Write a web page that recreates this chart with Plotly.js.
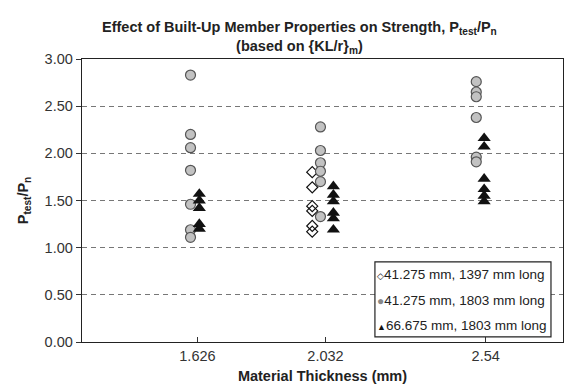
<!DOCTYPE html>
<html>
<head>
<meta charset="utf-8">
<script src="https://cdn.plot.ly/plotly-3.0.1.min.js"></script>
<style>html,body{margin:0;padding:0;background:#fff;}#chart{width:565px;height:390px;}</style>
</head>
<body>
<div id="chart"></div>
<script>
// Material thickness categories (mm)
var thicknessTicks = [1.626, 2.032, 2.54];
var thicknessLabels = ["1.626", "2.032", "2.54"];

// Series 1: 41.275 mm, 1397 mm long (only at 2.032 mm)
var s1Name = "41.275 mm, 1397 mm long";
var s1X = [1.99, 1.99, 1.99, 1.99, 1.99, 1.99];
var s1Y = [1.80, 1.64, 1.44, 1.39, 1.23, 1.17];

// Series 2: 41.275 mm, 1803 mm long
var s2Name = "41.275 mm, 1803 mm long";
var s2X = [1.604, 1.604, 1.604, 1.604, 1.604, 1.604, 1.604,
           2.016, 2.016, 2.016, 2.016, 2.016, 2.016,
           2.51, 2.51, 2.51, 2.51, 2.51, 2.51];
var s2Y = [2.83, 2.20, 2.06, 1.82, 1.46, 1.19, 1.11,
           2.28, 2.03, 1.90, 1.81, 1.70, 1.33,
           2.76, 2.65, 2.60, 2.38, 1.96, 1.91];

// Series 3: 66.675 mm, 1803 mm long
var s3Name = "66.675 mm, 1803 mm long";
var s3X = [1.632, 1.632, 1.632, 1.632, 1.632,
           2.057, 2.057, 2.057, 2.057, 2.057, 2.057,
           2.535, 2.535, 2.535, 2.535, 2.535, 2.535];
var s3Y = [1.57, 1.50, 1.42, 1.25, 1.20,
           1.65, 1.56, 1.49, 1.37, 1.31, 1.19,
           2.16, 2.07, 1.73, 1.62, 1.55, 1.49];

var yTicks = [0, 0.5, 1, 1.5, 2, 2.5, 3];

var traces = [
  {type: "scatter", mode: "markers", name: s1Name, x: s1X, y: s1Y,
   marker: {symbol: "diamond-open", size: 8.5, color: "#111", line: {width: 1.2, color: "#111"}}},
  {type: "scatter", mode: "markers", name: s2Name, x: s2X, y: s2Y,
   marker: {symbol: "circle", size: 10, color: "#c2c2c2", line: {width: 1.2, color: "#555"}}},
  {type: "scatter", mode: "markers", name: s3Name, x: s3X, y: s3Y,
   marker: {symbol: "triangle-up", size: 11.5, color: "#111", line: {width: 0}}}
];

// Legend drawn as boxed text rows (compact, like the reference)
var legendSymbols = [
  '<span style="font-size:9px;color:#111">\u25C7</span>',
  '<span style="font-size:12px;color:#888">\u25CF</span>',
  '<span style="font-size:9px;color:#111">\u25B2</span>'
];
var legendNames = [s1Name, s2Name, s3Name];
var legendRowY = [0.237, 0.148, 0.058];
var annotations = legendNames.map(function (n, i) {
  return {
    xref: "paper", yref: "paper", x: 0.610, y: legendRowY[i],
    xanchor: "left", yanchor: "middle", showarrow: false,
    text: legendSymbols[i] + n,
    font: {size: 13.5, color: "#222", family: "Liberation Sans, Arial, sans-serif"}
  };
});

var layout = {
  width: 565, height: 390,
  margin: {l: 82, r: 2, t: 59, b: 48},
  paper_bgcolor: "#fff", plot_bgcolor: "#fff",
  font: {family: "Liberation Sans, Arial, sans-serif", size: 14, color: "#333"},
  showlegend: false,
  title: {
    text: "<b>Effect of Built-Up Member Properties on Strength, P<sub>test</sub>/P<sub>n</sub><br>(based on {KL/r}<sub>m</sub>)</b>",
    x: 0.452, xref: "paper", xanchor: "center",
    y: 0.918, yref: "container", yanchor: "middle",
    font: {size: 14.5, color: "#222", family: "Liberation Sans, Arial, sans-serif"}
  },
  xaxis: {
    range: [1.26, 2.785],
    tickmode: "array", tickvals: thicknessTicks, ticktext: thicknessLabels,
    ticks: "inside", ticklen: 5, tickcolor: "#333",
    showgrid: false, zeroline: false,
    showline: true, linecolor: "#222", linewidth: 1.3, mirror: true,
    tickfont: {size: 14.5, color: "#333"},
    title: {text: "<b>Material Thickness (mm)</b>", standoff: 8, font: {size: 14.5, color: "#222"}}
  },
  yaxis: {
    range: [0, 3],
    tickmode: "array", tickvals: yTicks, ticktext: yTicks.map(function(v){return v.toFixed(2);}),
    ticks: "outside", ticklen: 5, tickcolor: "#333",
    showgrid: true, gridcolor: "#777", gridwidth: 1, griddash: "5px,4px",
    zeroline: false,
    showline: true, linecolor: "#222", linewidth: 1.3, mirror: true,
    tickfont: {size: 14.5, color: "#333"},
    title: {text: "<b>P<sub>test</sub>/P<sub>n</sub></b>", standoff: 12, font: {size: 14.5, color: "#222"}}
  },
  shapes: [{
    type: "rect", xref: "paper", yref: "paper",
    x0: 0.609, x1: 0.975, y0: 0.018, y1: 0.283,
    line: {color: "#222", width: 1.2}, fillcolor: "#fff", layer: "above"
  }],
  annotations: annotations
};

Plotly.newPlot("chart", traces, layout, {staticPlot: true, displayModeBar: false});
</script>
</body>
</html>
